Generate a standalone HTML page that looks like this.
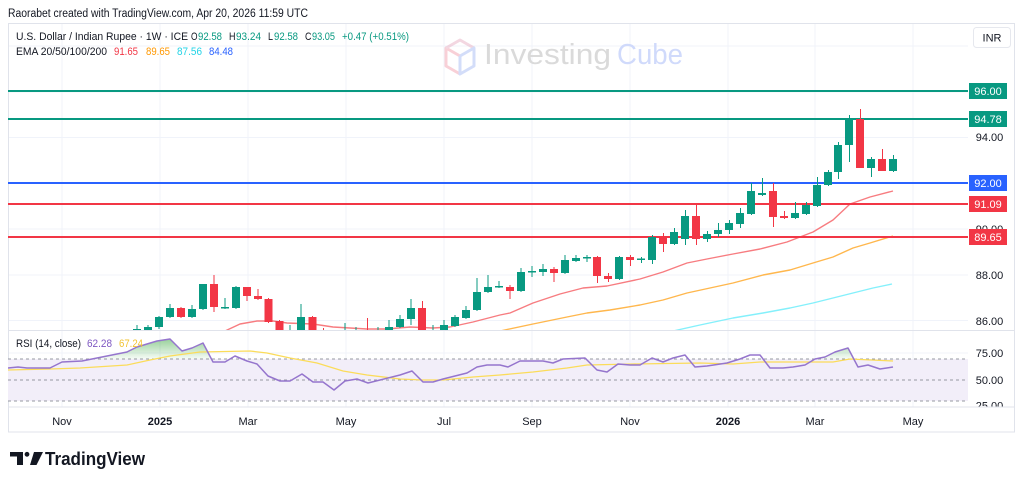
<!DOCTYPE html>
<html><head><meta charset="utf-8"><style>
html,body{margin:0;padding:0;background:#fff;}
svg{display:block;font-family:"Liberation Sans",Arial,sans-serif;}
</style></head><body>
<svg width="1024" height="484" viewBox="0 0 1024 484" xmlns="http://www.w3.org/2000/svg">
<defs>
<clipPath id="mainc"><rect x="8" y="23" width="960" height="308"/></clipPath>
<clipPath id="rsic"><rect x="8" y="331" width="960" height="76"/></clipPath>
<clipPath id="axc"><rect x="968" y="331" width="47" height="76"/></clipPath>
<linearGradient id="obg" gradientUnits="userSpaceOnUse" x1="0" y1="338" x2="0" y2="359">
<stop offset="0" stop-color="#4caf50" stop-opacity="0.6"/><stop offset="1" stop-color="#4caf50" stop-opacity="0.05"/></linearGradient>
<linearGradient id="obg2" gradientUnits="userSpaceOnUse" x1="0" y1="347" x2="0" y2="359">
<stop offset="0" stop-color="#4caf50" stop-opacity="0.35"/><stop offset="1" stop-color="#4caf50" stop-opacity="0.05"/></linearGradient>
</defs>
<rect width="1024" height="484" fill="#fff"/>

<!-- header -->
<text x="8" y="17" font-size="11.5" fill="#131722" textLength="300" lengthAdjust="spacingAndGlyphs">Raorabet created with TradingView.com, Apr 20, 2026 11:59 UTC</text>

<!-- frame -->
<rect x="8.5" y="23.5" width="1006" height="408.5" fill="none" stroke="#e0e3eb"/>

<!-- grid -->
<g stroke="#f0f3fa" stroke-width="1">
<line x1="62" y1="24" x2="62" y2="407"/><line x1="160" y1="24" x2="160" y2="407"/>
<line x1="248" y1="24" x2="248" y2="407"/><line x1="346" y1="24" x2="346" y2="407"/>
<line x1="444" y1="24" x2="444" y2="407"/><line x1="532" y1="24" x2="532" y2="407"/>
<line x1="630" y1="24" x2="630" y2="407"/><line x1="728" y1="24" x2="728" y2="407"/>
<line x1="815" y1="24" x2="815" y2="407"/><line x1="913" y1="24" x2="913" y2="407"/>
<line x1="9" y1="46" x2="968" y2="46"/><line x1="9" y1="92" x2="968" y2="92"/>
<line x1="9" y1="137.5" x2="968" y2="137.5"/><line x1="9" y1="183.5" x2="968" y2="183.5"/>
<line x1="9" y1="229" x2="968" y2="229"/><line x1="9" y1="275" x2="968" y2="275"/>
<line x1="9" y1="320.5" x2="968" y2="320.5"/><line x1="9" y1="353" x2="968" y2="353"/>
</g>

<!-- watermark -->
<g opacity="0.5" fill="none" stroke-width="3" stroke-linejoin="round">
<polyline points="460,56 446,48 446,66 460,74" stroke="#f2a3b0"/>
<polyline points="446,48 460,40 474,48" stroke="#e8b0c4"/>
<polyline points="460,56 474,48 474,66 460,74 460,56" stroke="#a9bdf5"/>
</g>
<text x="484" y="64" font-size="29" fill="#dadada" textLength="127" lengthAdjust="spacingAndGlyphs">Investing</text>
<text x="617" y="64" font-size="29" fill="#d0dafb" textLength="66" lengthAdjust="spacingAndGlyphs">Cube</text>

<!-- legend -->
<g font-size="11" fill="#131722">
<text x="16" y="40" textLength="172" lengthAdjust="spacingAndGlyphs">U.S. Dollar / Indian Rupee · 1W · ICE</text>
<text x="191" y="40" textLength="6.5" lengthAdjust="spacingAndGlyphs">O</text><text x="198" y="40" fill="#089981" textLength="24" lengthAdjust="spacingAndGlyphs">92.58</text>
<text x="229" y="40" textLength="6.5" lengthAdjust="spacingAndGlyphs">H</text><text x="236" y="40" fill="#089981" textLength="25" lengthAdjust="spacingAndGlyphs">93.24</text>
<text x="268" y="40" textLength="5" lengthAdjust="spacingAndGlyphs">L</text><text x="274" y="40" fill="#089981" textLength="24" lengthAdjust="spacingAndGlyphs">92.58</text>
<text x="305" y="40" textLength="6.5" lengthAdjust="spacingAndGlyphs">C</text><text x="312" y="40" fill="#089981" textLength="23" lengthAdjust="spacingAndGlyphs">93.05</text>
<text x="342" y="40" fill="#089981" textLength="67" lengthAdjust="spacingAndGlyphs">+0.47 (+0.51%)</text>
<text x="16" y="55" textLength="91" lengthAdjust="spacingAndGlyphs">EMA 20/50/100/200</text>
<text x="114" y="55" fill="#f23645" textLength="24" lengthAdjust="spacingAndGlyphs">91.65</text>
<text x="146" y="55" fill="#ff9800" textLength="24" lengthAdjust="spacingAndGlyphs">89.65</text>
<text x="177" y="55" fill="#22d3e6" textLength="25" lengthAdjust="spacingAndGlyphs">87.56</text>
<text x="209" y="55" fill="#2962ff" textLength="24" lengthAdjust="spacingAndGlyphs">84.48</text>
</g>

<!-- INR box -->
<rect x="973.5" y="27.5" width="37" height="20" rx="3" fill="#fff" stroke="#e6e8ee"/>
<text x="992" y="41.5" font-size="11" fill="#131722" text-anchor="middle">INR</text>

<!-- main pane -->
<g clip-path="url(#mainc)">
<g fill="none" stroke-width="1.4" stroke-linejoin="round">
<polyline stroke="#f77c80" points="225,331 240,324 257,321 273,321 287,323 313,324 333,327 367,329 387,329 410,327 433,328 450,327 473,322 500,315 510,313 533,303 560,294 583,288 607,286 640,279 663,272 687,263 707,259 733,254 760,249 787,242 813,232 833,220 850,204 870,197 893,191"/>
<polyline stroke="#ffb74d" points="493,333 500,331 533,324 567,317 587,313 610,310 640,305 663,300 687,293 733,283 763,275 790,270 813,263 833,257 853,248 870,243 893,236"/>
<polyline stroke="#84f0fb" points="668,333 673,331 700,325 733,318 763,313 790,308 813,303 833,298 853,293 873,288 892,284"/>
</g>
<g stroke-width="2">
<line x1="8" y1="91" x2="969" y2="91" stroke="#089981"/>
<line x1="8" y1="119" x2="969" y2="119" stroke="#089981"/>
<line x1="8" y1="183" x2="969" y2="183" stroke="#2962ff"/>
<line x1="8" y1="204" x2="969" y2="204" stroke="#f23645"/>
<line x1="8" y1="237" x2="969" y2="237" stroke="#f23645"/>
</g>
<g fill="#089981">
<rect x="136.5" y="325" width="1" height="17"/><rect x="133" y="329" width="8" height="11"/>
<rect x="147.5" y="325" width="1" height="13"/><rect x="144" y="327" width="8" height="9"/>
<rect x="158.5" y="316" width="1" height="13"/><rect x="155" y="317" width="8" height="10"/>
<rect x="169.5" y="304" width="1" height="14"/><rect x="166" y="308" width="8" height="9"/>
<rect x="191.5" y="305" width="1" height="13"/><rect x="188" y="309" width="8" height="8"/>
<rect x="202.5" y="284" width="1" height="26"/><rect x="199" y="284" width="8" height="25"/>
<rect x="224.5" y="298" width="1" height="11"/><rect x="221" y="307" width="8" height="1.5"/>
<rect x="235.5" y="286" width="1" height="23"/><rect x="232" y="287" width="8" height="21"/>
<rect x="289.5" y="325" width="1" height="17"/><rect x="286" y="333" width="8" height="7"/>
<rect x="300.5" y="304" width="1" height="42"/><rect x="297" y="317" width="8" height="28"/>
<rect x="344.5" y="323" width="1" height="19"/><rect x="341" y="333" width="8" height="7"/>
<rect x="355.5" y="327" width="1" height="13"/><rect x="352" y="332" width="8" height="6"/>
<rect x="377.5" y="327" width="1" height="13"/><rect x="374" y="332" width="8" height="6"/>
<rect x="388.5" y="320" width="1" height="18"/><rect x="385" y="327" width="8" height="9"/>
<rect x="399.5" y="315" width="1" height="13"/><rect x="396" y="319" width="8" height="8"/>
<rect x="410.5" y="299" width="1" height="26"/><rect x="407" y="308" width="8" height="11"/>
<rect x="432.5" y="325" width="1" height="17"/><rect x="429" y="333" width="8" height="7"/>
<rect x="443.5" y="320" width="1" height="17"/><rect x="440" y="325" width="8" height="10"/>
<rect x="454.5" y="315" width="1" height="12"/><rect x="451" y="317" width="8" height="9"/>
<rect x="465.5" y="306" width="1" height="13"/><rect x="462" y="310" width="8" height="8"/>
<rect x="476.5" y="278" width="1" height="33"/><rect x="473" y="292" width="8" height="18"/>
<rect x="487.5" y="275" width="1" height="18"/><rect x="484" y="287" width="8" height="5"/>
<rect x="498.5" y="281" width="1" height="7"/><rect x="495" y="286" width="8" height="1.5"/>
<rect x="520.5" y="268" width="1" height="24"/><rect x="517" y="272" width="8" height="19"/>
<rect x="531.5" y="266" width="1" height="11"/><rect x="528" y="271" width="8" height="1.5"/>
<rect x="542.5" y="264" width="1" height="12"/><rect x="539" y="269" width="8" height="3"/>
<rect x="564.5" y="255" width="1" height="19"/><rect x="561" y="260" width="8" height="13"/>
<rect x="575.5" y="255" width="1" height="7"/><rect x="572" y="258" width="8" height="3"/>
<rect x="586.5" y="255" width="1" height="7"/><rect x="583" y="257" width="8" height="1.5"/>
<rect x="619" y="256" width="1" height="24"/><rect x="615" y="257" width="8" height="22"/>
<rect x="641" y="257" width="1" height="6"/><rect x="637" y="258.5" width="8" height="1.5"/>
<rect x="652" y="235" width="1" height="29"/><rect x="648" y="237" width="8" height="23"/>
<rect x="674" y="228" width="1" height="17"/><rect x="670" y="232" width="8" height="12"/>
<rect x="685" y="210" width="1" height="35"/><rect x="681" y="216" width="8" height="23"/>
<rect x="707" y="231" width="1" height="11"/><rect x="703" y="234" width="8" height="5"/>
<rect x="718" y="223" width="1" height="14"/><rect x="714" y="230" width="8" height="4"/>
<rect x="729" y="220" width="1" height="14"/><rect x="725" y="223" width="8" height="7"/>
<rect x="740" y="208" width="1" height="20"/><rect x="736" y="213" width="8" height="11"/>
<rect x="751" y="183" width="1" height="32"/><rect x="747" y="191" width="8" height="23"/>
<rect x="762" y="178" width="1" height="18"/><rect x="758" y="193" width="8" height="2"/>
<rect x="795" y="202" width="1" height="17"/><rect x="791" y="213" width="8" height="5"/>
<rect x="806" y="202" width="1" height="13"/><rect x="802" y="205" width="8" height="9"/>
<rect x="817" y="177" width="1" height="30"/><rect x="813" y="185" width="8" height="21"/>
<rect x="828" y="170" width="1" height="16"/><rect x="824" y="172" width="8" height="13"/>
<rect x="838" y="142" width="1" height="37"/><rect x="834" y="145" width="8" height="27"/>
<rect x="849" y="115" width="1" height="47"/><rect x="845" y="119" width="8" height="26"/>
<rect x="871" y="157" width="1" height="20"/><rect x="867" y="159" width="8" height="9"/>
<rect x="893" y="155" width="1" height="17"/><rect x="889" y="159" width="8" height="12"/>
</g>
<g fill="#f23645">
<rect x="180.5" y="307" width="1" height="11"/><rect x="177" y="308" width="8" height="9"/>
<rect x="213.5" y="275" width="1" height="37"/><rect x="210" y="284" width="8" height="23"/>
<rect x="246.5" y="287" width="1" height="14"/><rect x="243" y="287" width="8" height="9"/>
<rect x="257.5" y="289" width="1" height="11"/><rect x="254" y="296" width="8" height="3"/>
<rect x="268" y="298" width="1" height="25"/><rect x="264.5" y="299" width="8" height="23"/>
<rect x="279" y="320" width="1" height="26"/><rect x="275.5" y="321" width="8" height="24"/>
<rect x="312" y="316" width="1" height="30"/><rect x="308.5" y="317" width="8" height="28"/>
<rect x="323" y="328" width="1" height="14"/><rect x="319.5" y="332" width="8" height="8"/>
<rect x="367" y="318" width="1" height="24"/><rect x="363" y="333" width="8" height="7"/>
<rect x="422" y="301" width="1" height="41"/><rect x="418" y="308" width="8" height="32"/>
<rect x="509.5" y="285" width="1" height="14"/><rect x="506" y="287" width="8" height="4"/>
<rect x="553.5" y="267" width="1" height="15"/><rect x="550" y="269" width="8" height="4"/>
<rect x="597" y="256" width="1" height="27"/><rect x="593" y="257" width="8" height="19"/>
<rect x="608" y="273" width="1" height="9"/><rect x="604" y="276" width="8" height="3"/>
<rect x="630" y="255" width="1" height="11"/><rect x="626" y="257" width="8" height="3"/>
<rect x="663" y="233" width="1" height="19"/><rect x="659" y="237" width="8" height="7"/>
<rect x="696" y="205" width="1" height="40"/><rect x="692" y="216" width="8" height="23"/>
<rect x="773" y="183" width="1" height="44"/><rect x="769" y="191" width="8" height="26"/>
<rect x="784" y="211" width="1" height="8"/><rect x="780" y="216" width="8" height="2"/>
<rect x="860" y="109" width="1" height="59"/><rect x="856" y="119" width="8" height="49"/>
<rect x="882" y="149" width="1" height="22"/><rect x="878" y="159" width="8" height="12"/>
</g>
</g>

<!-- price axis labels -->
<g font-size="11" fill="#131722" text-anchor="middle">
<text x="989.5" y="141">94.00</text>
<text x="989.5" y="233">90.00</text>
<text x="989.5" y="279">88.00</text>
<text x="989.5" y="325">86.00</text>
</g>
<g font-size="11" fill="#fff" text-anchor="middle">
<rect x="969" y="83" width="38" height="16" fill="#089981"/><text x="988" y="95">96.00</text>
<rect x="969" y="111" width="38" height="16" fill="#089981"/><text x="988" y="123">94.78</text>
<rect x="969" y="175" width="38" height="16" fill="#2962ff"/><text x="988" y="187">92.00</text>
<rect x="969" y="196" width="38" height="16" fill="#f23645"/><text x="988" y="208">91.09</text>
<rect x="969" y="229" width="38" height="16" fill="#f23645"/><text x="988" y="241">89.65</text>
</g>

<line x1="8" y1="330.5" x2="1015" y2="330.5" stroke="#e0e3eb"/>

<!-- RSI pane -->
<g clip-path="url(#rsic)">
<rect x="8" y="359" width="960" height="42" fill="#f2eef9"/>
<g stroke="#9598a1" stroke-width="1" stroke-dasharray="3,3">
<line x1="8" y1="359" x2="968" y2="359"/><line x1="8" y1="380" x2="968" y2="380"/><line x1="8" y1="401" x2="968" y2="401"/>
</g>
<polygon fill="url(#obg)" points="92,359 97,358 127,352 137,347 157,341 170,339 182,351 192,348 203,343 211,359"/>
<polygon fill="url(#obg2)" points="815,359 825,357 835,352 848,348 854,359"/>
<polyline fill="none" stroke="#fbdc5a" stroke-width="1.3" points="8,370 50,369 80,368 127,365 150,360 170,356 200,352 250,351 267,353 290,358 317,363 343,371 367,375 400,379 423,380 443,380 473,377 500,375 533,372 567,368 587,365 633,364 700,363 733,364 760,362 833,362 850,359 893,361"/>
<polyline fill="none" stroke="#9575cd" stroke-width="1.5" stroke-linejoin="round" points="8,368 18,367 27,368 50,368 62,362 82,361 97,358 127,352 137,347 157,341 170,339 182,351 192,348 203,343 213,362 225,362 235,356 247,361 257,364 268,376 280,381 290,381 302,374 313,382 323,382 334,390 345,381 357,379 368,383 380,380 400,375 412,371 423,382 433,382 443,379 467,373 477,367 487,365 500,365 508,367 520,361 543,361 553,363 563,359 585,358 597,370 607,372 618,364 630,365 640,365 652,358 663,362 673,358 685,355 695,367 707,366 727,363 740,359 750,355 760,355 770,368 783,368 793,367 805,365 815,359 825,357 835,352 848,348 858,367 868,365 880,369 893,367"/>
</g>
<text x="16" y="347" font-size="11" fill="#131722" textLength="65" lengthAdjust="spacingAndGlyphs">RSI (14, close)</text>
<text x="87" y="347" font-size="11" fill="#7e57c2" textLength="25" lengthAdjust="spacingAndGlyphs">62.28</text>
<text x="119" y="347" font-size="11" fill="#f2c330" textLength="24" lengthAdjust="spacingAndGlyphs">67.24</text>

<g font-size="11" fill="#131722" text-anchor="middle" clip-path="url(#axc)">
<text x="989.5" y="357">75.00</text>
<text x="989.5" y="384">50.00</text>
<text x="989.5" y="409.5">25.00</text>
</g>

<!-- time axis -->
<line x1="8" y1="407" x2="1015" y2="407" stroke="#e0e3eb"/>
<g font-size="11" fill="#131722" text-anchor="middle">
<text x="62" y="425">Nov</text>
<text x="160" y="425" font-weight="bold">2025</text>
<text x="248" y="425">Mar</text>
<text x="346" y="425">May</text>
<text x="444" y="425">Jul</text>
<text x="532" y="425">Sep</text>
<text x="630" y="425">Nov</text>
<text x="728" y="425" font-weight="bold">2026</text>
<text x="815" y="425">Mar</text>
<text x="913" y="425">May</text>
</g>

<!-- TradingView logo -->
<g fill="#131722">
<path d="M10 452 H23 V465 H17 V456.5 H10 Z"/>
<circle cx="27" cy="454.3" r="2.4"/>
<path d="M34 452 H43 L36.5 465 H30 Z"/>
</g>
<text x="45" y="465" font-size="18" font-weight="bold" fill="#131722" textLength="100" lengthAdjust="spacingAndGlyphs">TradingView</text>
</svg>
</body></html>
